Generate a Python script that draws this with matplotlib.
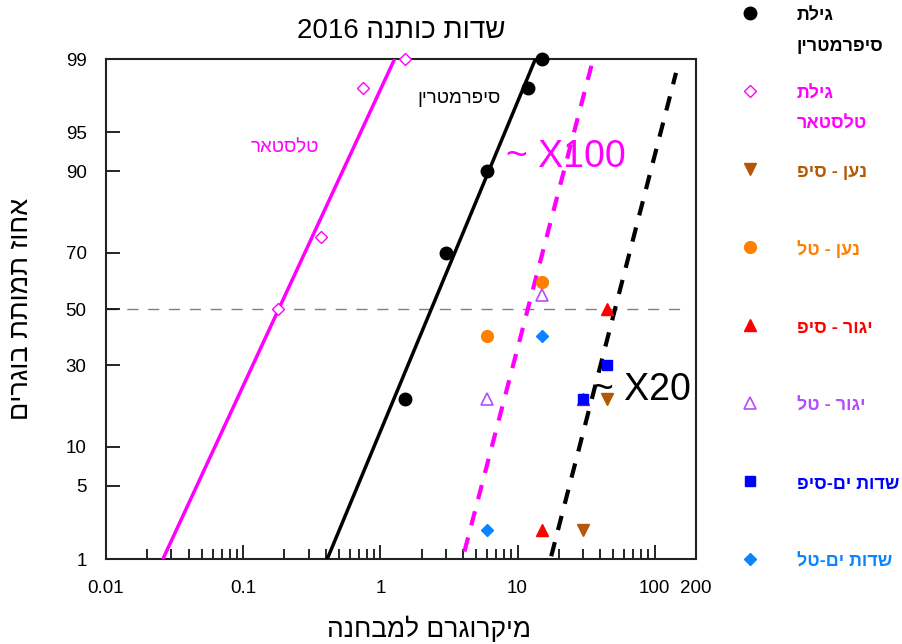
import re
from statistics import NormalDist

import numpy as np
import matplotlib
matplotlib.use("Agg")
import matplotlib.pyplot as plt

plt.rcParams['font.family'] = ['Liberation Sans', 'DejaVu Sans']


def heb(s):
    # matplotlib has no bidi, so flip each line and keep digit runs in order
    out = []
    for line in s.split("\n"):
        r = line[::-1]
        r = re.sub(r'[0-9A-Za-z.]+', lambda m: m.group(0)[::-1], r)
        out.append(r)
    return "\n".join(out)


# ---- data ----
cyper_x = [1.5, 3, 6, 12, 15]
cyper_p = [20, 70, 90, 98, 99]
telstar_x = [0.18, 0.37, 0.75, 1.5]
telstar_p = [50, 75, 98, 99]

naan_sif_x = [45, 30]
naan_sif_p = [20, 2]
naan_tal_x = [15, 6]
naan_tal_p = [60, 40]
yagur_sif_x = [45, 15, 30]
yagur_sif_p = [50, 2, 20]
yagur_tal_x = [15, 6]
yagur_tal_p = [55, 20]
sdot_sif_x = [45, 30]
sdot_sif_p = [30, 20]
sdot_tal_x = [15, 6]
sdot_tal_p = [40, 2]

# fitted probit lines (end points)
cyper_fit_x = [0.41, 13.5]
cyper_fit_p = [1, 99]
telstar_fit_x = [0.026, 1.27]
telstar_fit_p = [1, 99]
x100_fit_x = [4.1, 35]
x100_fit_p = [1.2, 98.9]
x20_fit_x = [17.6, 143]
x20_fit_p = [1.07, 98.6]

y_ticks = [1, 5, 10, 30, 50, 70, 90, 95, 99]
x_ticks = [0.01, 0.1, 1, 10, 100, 200]
x_ticklabels = ["0.01", "0.1", "1", "10", "100", "200"]

legend_labels = ["גילת\nסיפרמטרין", "גילת\nטלסטאר", "נען - סיפ", "נען - טל",
                 "יגור - סיפ", "יגור - טל", "שדות ים-סיפ", "שדות ים-טל"]

_nd = NormalDist()
_ppf = np.vectorize(_nd.inv_cdf, otypes=[float])
_cdf = np.vectorize(_nd.cdf, otypes=[float])


def probit_fwd(p):
    p = np.clip(np.asarray(p, dtype=float), 1e-6, 100 - 1e-6)
    return _ppf(p / 100.0)


def probit_inv(z):
    return _cdf(np.asarray(z, dtype=float)) * 100.0


W, H = 903, 644
fig = plt.figure(figsize=(W / 100, H / 100), dpi=100)
ax = fig.add_axes([106 / W, 1 - 559 / H, 590 / W, 500 / H])
ax.set_xscale('log')
ax.set_yscale('function', functions=(probit_fwd, probit_inv))
ax.set_xlim(0.01, 200)
ax.set_ylim(1, 99)

# colours
c_black = "black"
c_mag = "#ff00ff"
c_brown = "#b35806"
c_orange = "#ff8000"
c_red = "#ff0000"
c_purple = "#b44cff"
c_blue = "#0000ff"
c_lblue = "#0a84ff"

ax.axhline(50, xmax=0.98, color="#808080", lw=1, dashes=(8, 7), zorder=1)

ax.plot(telstar_fit_x, telstar_fit_p, color=c_mag, lw=2.5, zorder=3)
ax.plot(cyper_fit_x, cyper_fit_p, color=c_black, lw=2.5, zorder=3)
ax.plot(x100_fit_x, x100_fit_p, color=c_mag, lw=3, dashes=(3.5, 3), zorder=4)
ax.plot(x20_fit_x, x20_fit_p, color=c_black, lw=3, dashes=(3.5, 3), zorder=4)

ms = dict(ls="none", zorder=5, clip_on=False)
ax.plot(cyper_x, cyper_p, marker="o", ms=9, color=c_black, **ms)
ax.plot(telstar_x, telstar_p, marker="D", ms=6, mfc="white", mec=c_mag, mew=1, **ms)
ax.plot(yagur_sif_x, yagur_sif_p, marker="^", ms=9, color=c_red, **ms)
ax.plot(naan_sif_x, naan_sif_p, marker="v", ms=9, color=c_brown, **ms)
ax.plot(naan_tal_x, naan_tal_p, marker="o", ms=8.5, color=c_orange, **ms)
ax.plot(yagur_tal_x, yagur_tal_p, marker="^", ms=8.5, mfc="white", mec=c_purple, mew=1.2, **ms)
ax.plot(sdot_sif_x, sdot_sif_p, marker="s", ms=7.5, color=c_blue, **ms)
ax.plot(sdot_tal_x, sdot_tal_p, marker="D", ms=6.5, color=c_lblue, **ms)

ax.text(3.76, 97.5, heb("סיפרמטרין"), fontsize=13.5, color=c_black, ha="center", va="center")
ax.text(0.2, 93.3, heb("טלסטאר"), fontsize=13.5, color=c_mag, ha="center", va="center")
ax.text(22.6, 92.1, "~ X100", fontsize=27, color=c_mag, ha="center", va="center", zorder=2)
ax.text(35, 22.6, "~ X20", fontsize=27, color=c_black, ha="left", va="center", zorder=2)

ax.set_yticks(y_ticks)
ax.set_yticklabels([str(v) for v in y_ticks])
ax.set_xticks(x_ticks)
ax.set_xticklabels(x_ticklabels)
ax.minorticks_on()
ax.yaxis.set_minor_locator(matplotlib.ticker.NullLocator())
ax.tick_params(which="major", direction="in", length=10, width=1.2, labelsize=13.5)
ax.tick_params(which="minor", direction="in", length=7, width=1.2)
ax.tick_params(axis="x", pad=15)
ax.tick_params(axis="y", pad=14)
for sp in ax.spines.values():
    sp.set_linewidth(1.5)
    sp.set_color("#222222")

fig.text(401 / W, 1 - 31 / H, heb("שדות כותנה 2016"), fontsize=20, ha="center", va="center")
fig.text(21 / W, 1 - 309 / H, heb("אחוז תמותת בוגרים"), fontsize=19.5, rotation=90,
         ha="center", va="center")
fig.text(429 / W, 1 - 629 / H, heb("מיקרוגרם למבחנה"), fontsize=19, ha="center", va="center")

# legend drawn by hand on the right
lax = fig.add_axes([0, 0, 1, 1])
lax.set_xlim(0, W)
lax.set_ylim(H, 0)
lax.axis("off")
lax.patch.set_alpha(0)
leg_styles = [
    dict(marker="o", ms=9, color=c_black),
    dict(marker="D", ms=6, mfc="white", mec=c_mag, mew=1),
    dict(marker="v", ms=9, color=c_brown),
    dict(marker="o", ms=8.5, color=c_orange),
    dict(marker="^", ms=9, color=c_red),
    dict(marker="^", ms=8.5, mfc="white", mec=c_purple, mew=1.2),
    dict(marker="s", ms=7.5, color=c_blue),
    dict(marker="D", ms=6.5, color=c_lblue),
]
leg_colors = [c_black, c_mag, c_brown, c_orange, c_red, c_purple, c_blue, c_lblue]
for i, (lab, st, col) in enumerate(zip(legend_labels, leg_styles, leg_colors)):
    yy = 13 + i * 78
    lax.plot([750], [yy], ls="none", **st)
    for j, line in enumerate(lab.split("\n")):
        lax.text(797, yy + 3 + 30 * j, heb(line), fontsize=13, fontweight="bold",
                 color=col, ha="left", va="center")

fig.savefig("out.png", dpi=100)
